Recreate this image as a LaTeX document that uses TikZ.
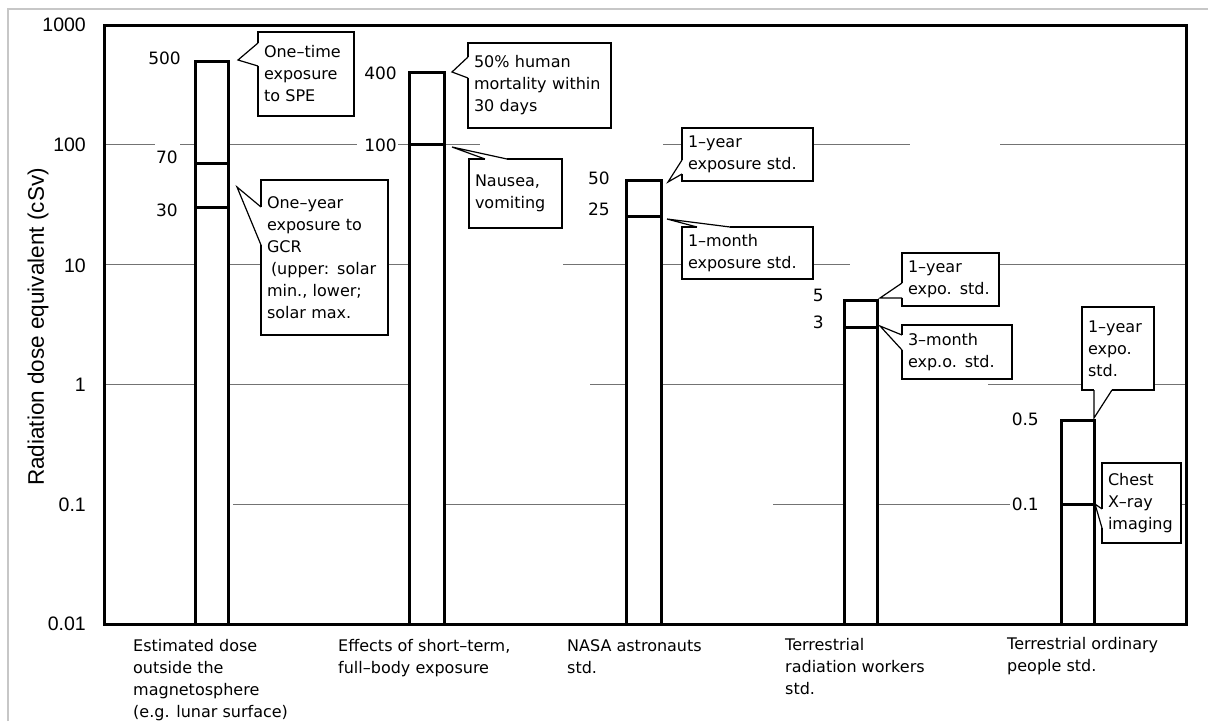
\documentclass[tikz,border=0pt]{standalone}
\usepackage{fontspec}
\setmainfont{Liberation Sans}
\newfontfamily\goth{DejaVu Sans}
\usetikzlibrary{calc}
\newcommand\callwedge[3]{%
  \draw[white, line width=2.4pt] (#2) -- (#3);
  \draw[wedgeline] (#2) -- (#1) -- (#3);
}
\begin{document}
\begin{tikzpicture}[x=1pt,y=-1pt,
  frameline/.style={line width=3pt, black},
  barline/.style={line width=3pt, black, fill=white},
  splitline/.style={line width=3pt, black},
  gridline/.style={line width=1pt, black!55},
  callbox/.style={draw=black, line width=1.3pt, fill=white, inner xsep=6pt, inner ysep=0pt, outer sep=0pt,
     align=left, anchor=north west, font=\goth\fontsize{16}{22}\selectfont},
  wedgeline/.style={line width=1.2pt, black, line join=miter},
  ticklab/.style={font=\fontsize{19.5}{22}\selectfont, anchor=east, inner sep=0pt},
  vallab/.style={font=\goth\fontsize{17}{22}\selectfont, anchor=east, inner sep=0pt},
  catlab/.style={font=\goth\fontsize{16}{22}\selectfont, anchor=north west, align=left, inner sep=0pt}
]
\useasboundingbox (0,0) rectangle (1208,721);
% outer light border
\draw[line width=2pt, black!22] (8,721) -- (8,9) -- (1208,9);

% grid lines (broken segments)
\foreach \a/\b in {105/155, 180/195, 229/357, 398/408, 445/480, 663/682, 813/910, 1000/1186}
  \draw[gridline] (\a,144.8) -- (\b,144.8);
\foreach \a/\b in {105/195, 229/261, 388/408, 563/625, 663/682, 813/850, 999/1186}
  \draw[gridline] (\a,264.6) -- (\b,264.6);
\foreach \a/\b in {105/195, 229/410, 590/627, 663/843, 988/1082, 1154/1186}
  \draw[gridline] (\a,384.4) -- (\b,384.4);
\foreach \a/\b in {233/410, 445/627, 773/843, 879/1010, 1181/1186}
  \draw[gridline] (\a,504.2) -- (\b,504.2);

% plot frame
\draw[frameline] (104.5,25.5) rectangle (1186,624);

% bars
\draw[barline] (195.5,624) rectangle (228.5,61.1);
\draw[splitline] (195.5,163.4) -- (228.5,163.4);
\draw[splitline] (195.5,207.4) -- (228.5,207.4);
\draw[barline] (409.5,624) rectangle (444.5,72.7);
\draw[splitline] (409.5,144.8) -- (444.5,144.8);
\draw[barline] (626.5,624) rectangle (661.5,180.9);
\draw[splitline] (626.5,216.9) -- (661.5,216.9);
\draw[barline] (844.5,624) rectangle (877.5,300.7);
\draw[splitline] (844.5,327.3) -- (877.5,327.3);
\draw[barline] (1061.5,624) rectangle (1094.5,420.5);
\draw[splitline] (1061.5,504.2) -- (1094.5,504.2);

% axis tick labels
\node[ticklab] (y1000) at (86,25) {1000};
\node[ticklab] (y100) at (86,145) {100};
\node[ticklab] (y10) at (86,266) {10};
\node[ticklab] (y1) at (86,385) {1};
\node[ticklab] (y01) at (86,505) {0.1};
\node[ticklab] (y001) at (86,624) {0.01};
\node[rotate=90, font=\fontsize{22.5}{26}\selectfont, inner sep=0pt] (ytitle) at (38,327) {Radiation dose equivalent (cSv)};

% value labels
\node[vallab] (v500) at (181,58) {500};
\node[vallab] (v70) at (178,157) {70};
\node[vallab] (v30) at (178,210) {30};
\node[vallab] (v400) at (397,73) {400};
\node[vallab, fill=white, inner xsep=1pt] (v100) at (398,145) {100};
\node[vallab] (v50) at (610,178) {50};
\node[vallab] (v25) at (610,209) {25};
\node[vallab] (v5) at (824,295) {5};
\node[vallab] (v3) at (824,322) {3};
\node[vallab] (v05) at (1039,419) {0.5};
\node[vallab] (v01) at (1039,504) {0.1};

% callout boxes
\node[callbox, minimum width=96, minimum height=84, text width=84] (c1) at (258,32) {One–time\\exposure\\to SPE};
\node[callbox, minimum width=127, minimum height=155, text width=115] (c2) at (261,180) {One–year\\exposure to\\GCR\\\hspace{4pt}(upper: solar\\min., lower;\\solar max.};
\node[callbox, minimum width=143, minimum height=85, text width=131] (c3) at (468,43) {50\% human\\mortality within\\30 days};
\node[callbox, minimum width=93, minimum height=69, text width=81] (c4) at (469,159) {Nausea,\\vomiting};
\node[callbox, minimum width=131, minimum height=53, text width=119] (c5) at (682,128) {1–year\\exposure std.};
\node[callbox, minimum width=131, minimum height=52, text width=119] (c6) at (682,227) {1–month\\exposure std.};
\node[callbox, minimum width=97, minimum height=53, text width=85] (c7) at (902,253) {1–year\\expo. std.};
\node[callbox, minimum width=110, minimum height=54, text width=98] (c8) at (902,325) {3–month\\exp.o. std.};
\node[callbox, minimum width=72, minimum height=83, text width=60] (c9) at (1082,307) {1–year\\expo.\\std.};
\node[callbox, minimum width=79, minimum height=80, text width=67] (c10) at (1102,463) {Chest\\X–ray\\imaging};

% wedge tips (points on the bars)
\coordinate (t1) at (238,60);
\coordinate (t2) at (237,187);
\coordinate (t3) at (452,72);
\coordinate (t4) at (452,147);
\coordinate (t5) at (668,182);
\coordinate (t6) at (667,219);
\coordinate (t7) at (880,298);
\coordinate (t8) at (880,326);
\coordinate (t9) at (1094,418);
\coordinate (t10) at (1095,504);

\callwedge{t1}{$(c1.north west)+(0,11)$}{$(c1.north west)+(0,34)$}
\callwedge{t2}{$(c2.north west)+(0,27)$}{$(c2.north west)+(0,65)$}
\callwedge{t3}{$(c3.north west)+(0,14)$}{$(c3.north west)+(0,35)$}
\callwedge{t4}{$(c4.north west)+(16,0)$}{$(c4.north west)+(38,0)$}
\callwedge{t5}{$(c5.north west)+(0,32)$}{$(c5.north west)+(0,46)$}
\callwedge{t6}{$(c6.north west)+(15,0)$}{$(c6.north west)+(48,0)$}
\callwedge{t7}{$(c7.north west)+(0,30)$}{$(c7.north west)+(0,45)$}
\callwedge{t8}{$(c8.north west)+(0,10)$}{$(c8.north west)+(0,25)$}
\callwedge{t9}{$(c9.south west)+(12,0)$}{$(c9.south west)+(30,0)$}
\callwedge{t10}{$(c10.north west)+(0,46)$}{$(c10.north west)+(0,65)$}

% category labels
\node[catlab] (k1) at (133,635.6) {\strut Estimated dose\\outside the\\magnetosphere\\(e.g. lunar surface)};
\node[catlab] (k2) at (338,635.6) {\strut Effects of short–term,\\full–body exposure};
\node[catlab] (k3) at (567,635.6) {\strut NASA astronauts\\std.};
\node[catlab] (k4) at (785,635) {\strut Terrestrial\\radiation workers\\std.};
\node[catlab] (k5) at (1007,634) {\strut Terrestrial ordinary\\people std.};
\end{tikzpicture}
\end{document}
